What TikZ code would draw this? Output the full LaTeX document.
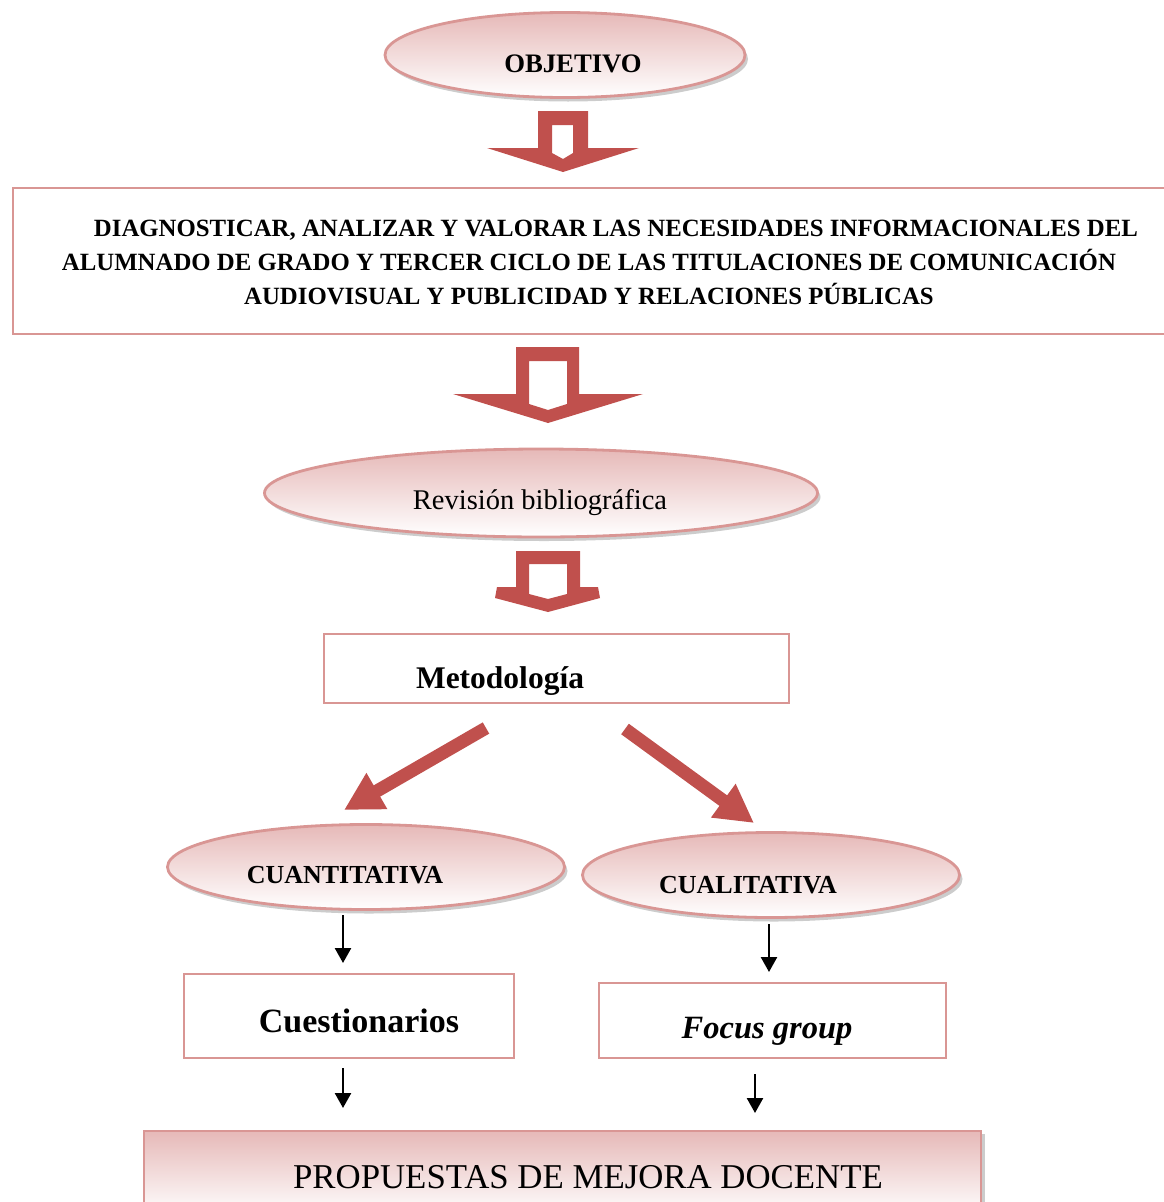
\documentclass[tikz,border=0pt]{standalone}
\usepackage{fontspec}
\setmainfont{Liberation Serif}
\usetikzlibrary{arrows.meta,shapes.geometric,shadows}

\definecolor{arrowred}{HTML}{C0504D}
\definecolor{edgepink}{HTML}{D99694}
\definecolor{shadepink}{HTML}{E6B9B8}

\tikzset{
  oval/.style={ellipse, draw=edgepink, line width=2.8pt, top color=shadepink,
    bottom color=white, inner sep=0pt,
    drop shadow={shadow xshift=3pt, shadow yshift=-4pt, fill=black!40}},
  box/.style={rectangle, draw=edgepink, line width=2.2pt, fill=white, inner sep=0pt},
  capsbold/.style={inner sep=0pt, font=\bfseries\fontsize{26}{34}\selectfont},
  blockarrow/.style={draw=none, fill=arrowred, even odd rule},
  slantarrow/.style={arrowred, line width=13pt, -{Triangle[width=39pt,length=38pt]}},
  smallarrow/.style={black, line width=2.5pt, -{Triangle[width=16pt,length=15pt]}},
}

\begin{document}
\begin{tikzpicture}[x=1pt, y=-1pt]
  \useasboundingbox (0,0) rectangle (1164,1202);

  % objective
  \node[oval, minimum width=360pt, minimum height=85pt] (obj) at (565,55) {};
  \node[inner sep=0pt, font=\bfseries\fontsize{26.7}{30}\selectfont] (objt) at (573,64) {OBJETIVO};

  % hollow block arrow 1
  \path[blockarrow] (538,111) -- (588,111) -- (588,148) -- (639,148) -- (563,172)
     -- (487,148) -- (538,148) -- cycle
     (552,125) -- (573,125) -- (573,153) -- (563,159) -- (552,153) -- cycle;

  % aim statement
  \node[box, minimum width=1154pt, minimum height=146pt, anchor=north west] (aim) at (12,187) {};
  \node[inner sep=0pt, align=center, font=\bfseries\fontsize{24.8}{34}\selectfont] (aimt) at (589,262)
    {\hspace*{54pt}DIAGNOSTICAR, ANALIZAR Y VALORAR LAS NECESIDADES INFORMACIONALES DEL\\
     ALUMNADO DE GRADO Y TERCER CICLO DE LAS TITULACIONES DE COMUNICACIÓN\\
     AUDIOVISUAL Y PUBLICIDAD Y RELACIONES PÚBLICAS};

  % hollow block arrow 2
  \path[blockarrow] (516,347) -- (579,347) -- (579,394) -- (643,394) -- (548,423)
     -- (453,394) -- (516,394) -- cycle
     (529,361) -- (567,361) -- (567,404) -- (548,410) -- (529,404) -- cycle;

  % literature review
  \node[oval, minimum width=553pt, minimum height=88pt] (rev) at (541,493) {};
  \node[inner sep=0pt, font=\fontsize{28.5}{32}\selectfont] (revt) at (540,503) {Revisión bibliográfica};

  % hollow block arrow 3
  \path[blockarrow] (516,551) -- (580,551) -- (580,587) -- (598,587) -- (600,598)
     -- (548,612) -- (495,598) -- (497,587) -- (516,587) -- cycle
     (529,564) -- (567,564) -- (567,594) -- (548,599) -- (529,594) -- cycle;

  % methodology
  \node[box, minimum width=465pt, minimum height=69pt, anchor=north west] (met) at (323,633) {};
  \node[inner sep=0pt, font=\bfseries\fontsize{31.5}{34}\selectfont] (mett) at (500,681) {Metodología};

  % branches
  \coordinate (ls) at (486,728);
  \coordinate (le) at (344,810);
  \coordinate (rs) at (625,729);
  \coordinate (re) at (754,823);
  \draw[slantarrow] (ls) -- (le);
  \draw[slantarrow] (rs) -- (re);

  \node[oval, minimum width=397pt, minimum height=85pt] (cuan) at (366,867) {};
  \node[capsbold] (cuant) at (345,875) {CUANTITATIVA};
  \node[oval, minimum width=377pt, minimum height=85pt] (cual) at (771,875) {};
  \node[capsbold] (cualt) at (748,885) {CUALITATIVA};

  % techniques
  \node[box, minimum width=330pt, minimum height=84pt, anchor=north west] (cues) at (183,973) {};
  \node[inner sep=0pt, font=\bfseries\fontsize{34}{38}\selectfont] (cuest) at (359,1021) {Cuestionarios};
  \node[box, minimum width=347pt, minimum height=75pt, anchor=north west] (foc) at (598,982) {};
  \node[inner sep=0pt, font=\bfseries\itshape\fontsize{32.5}{36}\selectfont] (foct) at (767,1031) {Focus group};

  \coordinate (a1s) at (343,915);  \coordinate (a1e) at (343,963);
  \coordinate (a2s) at (769,924);  \coordinate (a2e) at (769,972);
  \coordinate (a3s) at (343,1068); \coordinate (a3e) at (343,1108);
  \coordinate (a4s) at (755,1074); \coordinate (a4e) at (755,1113);
  \draw[smallarrow] (a1s) -- (a1e);
  \draw[smallarrow] (a2s) -- (a2e);
  \draw[smallarrow] (a3s) -- (a3e);
  \draw[smallarrow] (a4s) -- (a4e);

  % proposals
  \node[box, top color=shadepink, bottom color=white, minimum width=837pt,
        minimum height=85pt, anchor=north west,
        drop shadow={shadow xshift=4pt, shadow yshift=-3pt, fill=black!40}] (prop) at (143,1130) {};
  \node[inner sep=0pt, font=\fontsize{34.8}{38}\selectfont] (propt) at (588,1177)
    {PROPUESTAS DE MEJORA DOCENTE};
\end{tikzpicture}
\end{document}
